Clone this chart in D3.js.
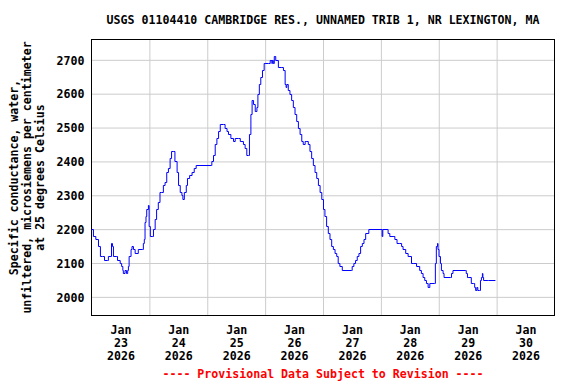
<!DOCTYPE html>
<meta charset="utf-8">
<style>
  body { margin: 0; background: #fff; }
  text { font-family: 'DejaVu Sans Mono', monospace; font-weight: bold; font-size: 11.6px; fill: #000; }
  .grid line { stroke: #cccccc; stroke-width: 1; }
  .grid path { display: none; }
</style>
<script src="https://d3js.org/d3.v7.min.js"></script>
<div id="chart"></div>
<script>
// hours after Jan 23 2026 00:00 and the reading (uS/cm at 25 C)
var hours = [0, 0.8, 1.8, 2.9, 3.7, 4.6, 5.4, 6.7, 7.0, 7.7, 8.3, 8.7, 9.1, 10.5, 10.8, 11.9,
  12.5, 13.0, 13.2, 13.9, 14.5, 15.0, 15.3, 15.6, 16.0, 16.4, 16.8, 17.4, 18.1, 19.4, 21.2,
  21.5, 21.9, 22.2, 22.6, 22.9, 23.6, 23.9, 24.4, 25.4, 25.7, 26.4, 27.0, 27.7, 28.4, 29.1,
  29.8, 30.5, 31.2, 31.9, 32.6, 33.2, 34.1, 34.6, 35.5, 36.1, 36.8, 37.5, 37.9, 38.5, 39.3,
  39.8, 40.7, 41.7, 42.6, 43.4, 49.7, 49.9, 50.6, 51.3, 52.0, 52.7, 53.4, 54.7, 55.4, 56.2,
  56.8, 57.8, 58.9, 59.6, 61.0, 61.7, 62.4, 63.0, 63.7, 64.4, 65.1, 65.5, 66.1, 66.6, 67.2,
  67.9, 68.6, 69.0, 69.6, 70.2, 70.9, 71.6, 72.0, 73.4, 74.1, 74.8, 75.0, 75.4, 75.8, 76.4,
  77.5, 78.9, 79.6, 80.3, 80.7, 81.0, 81.6, 82.3, 83.0, 83.7, 84.4, 85.1, 85.8, 86.5, 87.2,
  87.8, 88.6, 89.3, 89.9, 90.6, 91.3, 92.0, 92.7, 93.4, 94.1, 94.8, 95.5, 96.2, 96.8, 97.5,
  98.2, 98.9, 99.6, 100.3, 101.0, 101.7, 102.3, 103.0, 104.0, 107.9, 108.1, 108.8, 109.5,
  110.2, 110.9, 111.6, 112.3, 113.0, 113.7, 115.0, 120.5, 120.8, 122.6, 123.0, 123.7, 125.4,
  125.8, 126.7, 127.6, 128.6, 129.2, 130.3, 131.3, 132.7, 133.4, 134.8, 136.1, 136.8, 137.5,
  138.2, 138.9, 139.6, 140.3, 142.3, 142.6, 143.0, 143.5, 143.7, 144.1, 144.7, 145.1, 145.8,
  146.2, 148.8, 149.3, 149.9, 155.0, 155.4, 155.9, 156.5, 157.5, 158.5, 158.9, 159.3, 159.8,
  160.2, 160.9, 161.3, 161.7, 162.1, 162.3, 162.6, 164.4, 164.7, 167.5];
var conductance = [2200, 2180, 2170, 2150, 2120, 2120, 2110, 2110, 2120, 2120, 2160, 2150, 2120, 2120, 2110, 2100,
  2090, 2080, 2070, 2080, 2070, 2080, 2090, 2120, 2120, 2140, 2150, 2140, 2130, 2140, 2140,
  2160, 2170, 2220, 2240, 2260, 2270, 2210, 2180, 2180, 2200, 2230, 2260, 2280, 2310, 2310,
  2330, 2340, 2370, 2380, 2410, 2430, 2430, 2400, 2370, 2330, 2310, 2300, 2290, 2310, 2330,
  2350, 2360, 2370, 2380, 2390, 2390, 2400, 2420, 2450, 2470, 2490, 2510, 2510, 2500, 2490,
  2480, 2470, 2460, 2470, 2470, 2460, 2460, 2450, 2440, 2420, 2420, 2480, 2540, 2580, 2570,
  2550, 2560, 2600, 2630, 2650, 2670, 2690, 2690, 2690, 2700, 2690, 2700, 2690, 2710, 2700,
  2680, 2680, 2670, 2630, 2620, 2630, 2610, 2600, 2580, 2560, 2540, 2520, 2500, 2480, 2460,
  2450, 2460, 2460, 2450, 2430, 2410, 2390, 2370, 2350, 2330, 2310, 2290, 2260, 2240, 2210,
  2190, 2170, 2150, 2140, 2130, 2120, 2100, 2090, 2080, 2080, 2090, 2100, 2110,
  2120, 2130, 2150, 2160, 2170, 2190, 2200, 2180, 2200, 2200, 2190, 2180, 2180,
  2170, 2160, 2160, 2150, 2140, 2130, 2120, 2100, 2100, 2090, 2080, 2070, 2060,
  2050, 2040, 2030, 2040, 2040, 2100, 2150, 2160, 2140, 2120, 2100, 2080, 2070,
  2060, 2060, 2070, 2080, 2080, 2070, 2060, 2060, 2040, 2040, 2030, 2020, 2030,
  2020, 2020, 2050, 2060, 2070, 2060, 2050, 2050, 2050, 2050];
var yTicks = [2000, 2100, 2200, 2300, 2400, 2500, 2600, 2700];
var dayLabels = ["23", "24", "25", "26", "27", "28", "29", "30"];

var W = 576, H = 384;
var plotL = 91.5, plotR = 554.5, plotT = 39.5, plotB = 315.5;
var t0 = new Date(2026, 0, 23);

var svg = d3.select("#chart").append("svg")
    .attr("width", W)
    .attr("height", H);

var x = d3.scaleTime()
    .domain([t0, d3.timeDay.offset(t0, 8)])
    .range([plotL, plotR]);

var y = d3.scaleLinear()
    .domain([1945, 2760])
    .range([plotB, plotT]);

// gridlines
svg.append("g")
    .attr("class", "grid")
    .attr("transform", "translate(0," + plotB + ")")
    .call(d3.axisBottom(x).tickValues(d3.timeDay.range(d3.timeDay.offset(t0, 1), d3.timeDay.offset(t0, 8)))
        .tickSize(-(plotB - plotT)).tickFormat(""));

svg.append("g")
    .attr("class", "grid")
    .attr("transform", "translate(" + plotL + ",0)")
    .call(d3.axisLeft(y).tickValues(yTicks).tickSize(-(plotR - plotL)).tickFormat(""));

// frame
svg.append("rect")
    .attr("x", plotL).attr("y", plotT)
    .attr("width", plotR - plotL).attr("height", plotB - plotT)
    .attr("fill", "none").attr("stroke", "#000").attr("stroke-width", 1);

// y tick labels
var yAxis = svg.append("g")
    .attr("transform", "translate(" + plotL + ",0)")
    .call(d3.axisLeft(y).tickValues(yTicks).tickSize(0).tickPadding(7).tickFormat(d3.format("d")));
yAxis.select(".domain").remove();
yAxis.attr("font-family", null).attr("font-size", null);
yAxis.selectAll("text").attr("dy", "0.36em");

// x labels at noon
var noons = dayLabels.map(function(d, i) { return d3.timeHour.offset(t0, i * 24 + 12); });
var xAxis = svg.append("g")
    .attr("transform", "translate(0," + plotB + ")")
    .call(d3.axisBottom(x).tickValues(noons).tickSize(0).tickFormat(""));
xAxis.select(".domain").remove();
xAxis.attr("font-family", null).attr("font-size", null);
xAxis.selectAll(".tick text").remove();
xAxis.selectAll(".tick").each(function(d, i) {
  var t = d3.select(this).append("text").attr("text-anchor", "middle");
  t.append("tspan").attr("x", 0).attr("y", 18.5).text("Jan");
  t.append("tspan").attr("x", 0).attr("y", 31.5).text(dayLabels[i]);
  t.append("tspan").attr("x", 0).attr("y", 44.5).text("2026");
});

// data line
var pts = hours.map(function(h, i) { return [d3.timeMinute.offset(t0, Math.round(h * 60)), conductance[i]]; });
svg.append("path")
    .datum(pts)
    .attr("fill", "none")
    .attr("stroke", "#0000ff")
    .attr("stroke-width", 1)
    .attr("d", d3.line()
        .x(function(d) { return x(d[0]); })
        .y(function(d) { return Math.round(y(d[1])) + 0.5; })
        .curve(d3.curveStepAfter));

// title
svg.append("text")
    .attr("x", (plotL + plotR) / 2)
    .attr("y", 24)
    .attr("text-anchor", "middle")
    .text("USGS 01104410 CAMBRIDGE RES., UNNAMED TRIB 1, NR LEXINGTON, MA");

// y axis title
var yTitle = ["Specific conductance, water,", "unfiltered, microsiemens per centimeter", "at 25 degrees Celsius"];
svg.append("g")
    .selectAll("text")
    .data(yTitle)
    .enter()
    .append("text")
      .attr("text-anchor", "middle")
      .attr("transform", function(d, i) { return "translate(" + (18 + i * 13) + "," + (plotT + plotB) / 2 + ")rotate(-90)"; })
      .text(function(d) { return d; });

// footer
svg.append("text")
    .attr("x", (plotL + plotR) / 2)
    .attr("y", 378)
    .attr("text-anchor", "middle")
    .style("fill", "#ff0000")
    .text("---- Provisional Data Subject to Revision ----");
</script>
